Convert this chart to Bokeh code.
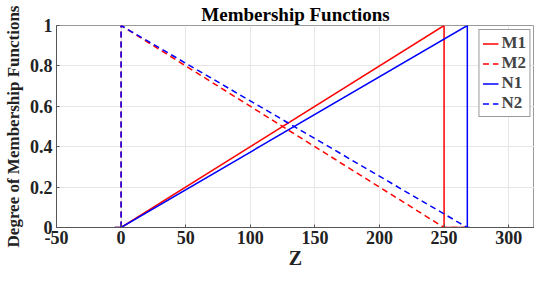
from bokeh.plotting import figure
from bokeh.models import Range1d, FixedTicker, CustomJSTickFormatter, Legend
from bokeh.embed import file_html
from bokeh.resources import INLINE

# Data (breakpoints)
m1_x = [-5, 0, 250, 250, 268]
m1_y = [0, 0, 1, 0, 0]
m2_x = [0, 0, 250, 268]
m2_y = [0, 1, 0, 0]
n1_x = [-5, 0, 268, 268, 270]
n1_y = [0, 0, 1, 0, 0]
n2_x = [0, 0, 268]
n2_y = [0, 1, 0]

x_ticks = [-50, 0, 50, 100, 150, 200, 250, 300]
y_ticks = [0, 0.2, 0.4, 0.6, 0.8, 1]

FONT = "Liberation Serif"

p = figure(width=534, height=271, output_backend="svg", toolbar_location=None,
           x_range=Range1d(-50, 320), y_range=Range1d(0, 1),
           min_border_left=52, min_border_right=0, min_border_top=23, min_border_bottom=44)

p.title.text = "Membership Functions"
p.title.align = "center"
p.title.text_font = FONT
p.title.text_font_size = "19px"
p.title.text_font_style = "bold"
p.title.text_color = "black"
p.title.offset = -11
p.title.standoff = 2

r_m1 = p.line(m1_x, m1_y, line_color="#ff0000", line_width=1.5)
r_m2 = p.line(m2_x, m2_y, line_color="#ff0000", line_width=1.5, line_dash="6 4")
r_n1 = p.line(n1_x, n1_y, line_color="#0000ff", line_width=1.5)
r_n2 = p.line(n2_x, n2_y, line_color="#0000ff", line_width=1.5, line_dash="6 4")

p.xaxis.ticker = FixedTicker(ticks=x_ticks)
p.yaxis.ticker = FixedTicker(ticks=y_ticks)
p.yaxis.formatter = CustomJSTickFormatter(code="return (Math.round(tick*10)/10).toString();")
p.xaxis.formatter = CustomJSTickFormatter(code="return tick.toString();")

p.axis.major_label_text_font = FONT
p.axis.major_label_text_font_style = "bold"
p.axis.major_label_text_font_size = "18px"
p.axis.major_label_text_color = "#222222"
p.axis.axis_label_text_font = FONT
p.axis.axis_label_text_font_style = "bold"
p.axis.axis_label_text_color = "#222222"
p.axis.minor_tick_line_color = None
p.axis.major_tick_in = 3
p.axis.major_tick_out = 0
p.axis.major_tick_line_color = "#555555"
p.axis.axis_line_color = "#555555"
p.yaxis.major_label_standoff = 4
p.xaxis.major_label_standoff = 3

p.xaxis.axis_label = "Z"
p.xaxis.axis_label_text_font_size = "20px"
p.xaxis.axis_label_standoff = 0
p.yaxis.axis_label = "Degree of Membership Functions"
p.yaxis.axis_label_text_font_size = "17px"
p.yaxis.axis_label_standoff = 4

p.xgrid.grid_line_color = "#e6e6e6"
p.ygrid.grid_line_color = "#e6e6e6"
p.outline_line_color = "#999999"

legend = Legend(items=[("M1", [r_m1]), ("M2", [r_m2]), ("N1", [r_n1]), ("N2", [r_n2])],
                location="top_right")
legend.label_text_font = FONT
legend.label_text_font_style = "bold"
legend.label_text_font_size = "17px"
legend.glyph_width = 16
legend.glyph_height = 19
legend.spacing = 0
legend.padding = 3
legend.margin = 4
legend.label_standoff = 3
legend.label_height = 19
legend.border_line_color = "#333333"
legend.background_fill_alpha = 1.0
p.add_layout(legend)

open("out.html", "w").write(file_html(p, INLINE))
